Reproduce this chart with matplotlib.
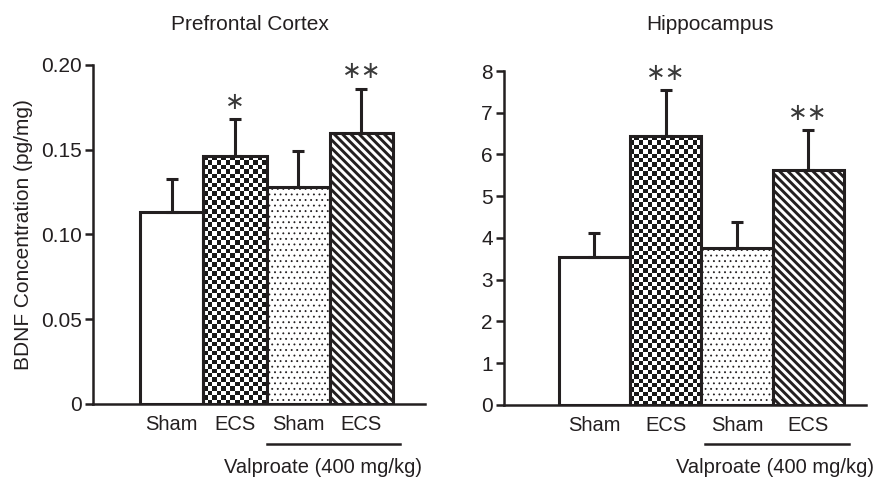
import numpy as np
import matplotlib
matplotlib.use('Agg')
import matplotlib.pyplot as plt

plt.rcParams['font.family'] = ['Liberation Sans', 'DejaVu Sans']

groups = ['Sham', 'ECS', 'Sham', 'ECS']
pfc_mean = [0.113, 0.146, 0.128, 0.160]
pfc_err = [0.020, 0.022, 0.021, 0.026]
pfc_stars = ['', '*', '', '**']
hip_mean = [3.54, 6.44, 3.75, 5.62]
hip_err = [0.57, 1.10, 0.64, 0.96]
hip_stars = ['', '**', '', '**']

INK = '#231f20'
x = np.arange(1, 5)

fig = plt.figure(figsize=(8.86, 4.83), dpi=100)
ax1 = fig.add_axes([0.105, 0.1636, 0.3747, 0.7019])
ax2 = fig.add_axes([0.5688, 0.1615, 0.4086, 0.6915])


def checker(ax, bar, cell=4.4):
    # checkerboard fill, clipped to the bar
    xl, yl = ax.get_xlim(), ax.get_ylim()
    fig.canvas.draw()
    bb = bar.get_window_extent()
    nx = max(1, int(round(bb.width / cell)))
    ny = max(1, int(round(bb.height / cell)))
    img = (np.indices((ny, nx)).sum(axis=0) % 2).astype(float)
    x0 = bar.get_x()
    y0 = bar.get_y()
    im = ax.imshow(img, cmap='gray_r', vmin=0, vmax=1.1, interpolation='nearest',
                   extent=(x0, x0 + bar.get_width(), y0, y0 + bar.get_height()),
                   origin='lower', aspect='auto', zorder=1.9)
    im.set_clip_path(bar)
    bar.set_facecolor('none')
    ax.set_xlim(xl)
    ax.set_ylim(yl)


def panel(ax, means, errs, stars, xlim, yticks, ytl, title, tx, ty,
          line_x, text_x):
    ax.set_xlim(xlim)
    ax.set_ylim(0, yticks[-1])
    bars = ax.bar(x[:2], means[:2], width=1.0, color='white', edgecolor=INK,
                  linewidth=2.2, zorder=2)
    with plt.rc_context({'hatch.linewidth': 0.6, 'hatch.color': '#b4b4b4'}):
        ax.bar([x[2]], [means[2]], width=1.0, color='white',
               edgecolor=INK, linewidth=2.2, hatch='...', zorder=2)
    with plt.rc_context({'hatch.linewidth': 2.1, 'hatch.color': INK}):
        ax.bar([x[3]], [means[3]], width=1.0, color='white',
               edgecolor=INK, linewidth=2.2, hatch='\\\\\\\\', zorder=2)
    ax.errorbar(x, means, yerr=[np.zeros(4), errs], fmt='none', ecolor=INK,
                elinewidth=2.2, capsize=4, capthick=2.2, zorder=3)
    for xi, m, e, s in zip(x, means, errs, stars):
        if s:
            ax.annotate(s.replace('*', '\u2217'), (xi, m + e), xytext=(0, 12.5),
                        textcoords='offset points', ha='center', va='center',
                        fontsize=17, color='#3a3a3a', family='DejaVu Sans')
    ax.set_yticks(yticks)
    ax.set_yticklabels(ytl)
    ax.set_xticks(x)
    ax.set_xticklabels(groups)
    ax.tick_params(axis='x', length=0, pad=8, labelsize=14.5, colors=INK)
    ax.tick_params(axis='y', length=6, width=1.8, pad=2, labelsize=15,
                   colors=INK)
    for s in ['top', 'right']:
        ax.spines[s].set_visible(False)
    for s in ['left', 'bottom']:
        ax.spines[s].set_linewidth(1.8)
        ax.spines[s].set_color(INK)
    ax.text(tx, ty, title, transform=ax.transAxes, ha='center', va='center',
            fontsize=15, color=INK)
    tr = ax.get_xaxis_transform()
    ax.plot(line_x, [-0.118, -0.118], transform=tr, color=INK, lw=1.8,
            clip_on=False)
    ax.text(text_x, -0.186, 'Valproate (400 mg/kg)', transform=tr,
            ha='center', va='center', fontsize=14.5, color=INK)
    return bars


b1 = panel(ax1, pfc_mean, pfc_err, pfc_stars, (-0.243, 5.006),
           [0, 0.05, 0.10, 0.15, 0.20], ['0', '0.05', '0.10', '0.15', '0.20'],
           'Prefrontal Cortex', 0.473, 1.118, [2.5, 4.61], 3.40)
b2 = panel(ax2, hip_mean, hip_err, hip_stars, (-0.267, 4.81),
           list(range(9)), [str(i) for i in range(9)],
           'Hippocampus', 0.569, 1.138, [2.55, 4.57], 3.54)
ax1.set_ylabel('BDNF Concentration (pg/mg)', fontsize=15, color=INK,
               labelpad=6)
checker(ax1, b1[1])
checker(ax2, b2[1])

fig.savefig('out.png', dpi=100)
